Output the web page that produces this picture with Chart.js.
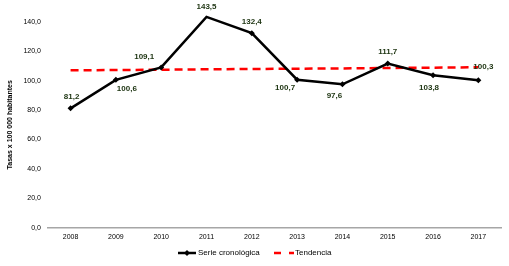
<!DOCTYPE html>
<html>
<head>
<meta charset="utf-8">
<script src="https://cdn.jsdelivr.net/npm/chart.js@4"></script>
<style>
  body { margin: 0; background: #fff; }
  #wrap { width: 509px; height: 266px; }
</style>
</head>
<body>
<div id="wrap"><canvas id="lc"></canvas></div>
<script>
// data
const years = ["2008", "2009", "2010", "2011", "2012", "2013", "2014", "2015", "2016", "2017"];
const serie = [81.2, 100.6, 109.1, 143.5, 132.4, 100.7, 97.6, 111.7, 103.8, 100.3];
const tendencia = [107.1, 107.3, 107.5, 107.8, 108.0, 108.2, 108.4, 108.7, 108.9, 109.2];
const legendNames = ["Serie cronológica", "Tendencia"];

// where each value label sits relative to its point (dx, dy)
const labelOffsets = [
  [1, -12], [11, 9], [-17, -11], [0, -10], [0, -11],
  [-12, 8], [-8, 12], [0, -12], [-4, 13], [5, -14]
];

const fmt = (v) => v.toFixed(1).replace(".", ",");
const fontFam = "'Liberation Sans Narrow', 'Arial Narrow', 'Liberation Sans', Arial, sans-serif";

//value labels + hand drawn legend
const extras = {
  id: "extras",
  afterDatasetsDraw(chart) {
    const ctx = chart.ctx;
    const meta = chart.getDatasetMeta(0);
    ctx.save();
    ctx.font = "bold 8px " + fontFam;
    ctx.fillStyle = "#1c3310";
    ctx.textAlign = "center";
    ctx.textBaseline = "middle";
    meta.data.forEach((pt, i) => {
      const off = labelOffsets[i];
      ctx.fillText(fmt(serie[i]), pt.x + off[0], pt.y + off[1]);
    });
    ctx.restore();
  },
  afterDraw(chart) {
    const ctx = chart.ctx;
    const y = 253;
    ctx.save();
    ctx.font = "8px " + fontFam;
    ctx.textBaseline = "middle";
    ctx.fillStyle = "#000";
    // serie: line with diamond
    ctx.strokeStyle = "#000";
    ctx.lineWidth = 2.5;
    ctx.beginPath();
    ctx.moveTo(178, y);
    ctx.lineTo(196, y);
    ctx.stroke();
    ctx.beginPath();
    ctx.moveTo(187, y - 3);
    ctx.lineTo(190, y);
    ctx.lineTo(187, y + 3);
    ctx.lineTo(184, y);
    ctx.closePath();
    ctx.fill();
    ctx.fillText(legendNames[0], 198, y);
    // tendencia: dashed red
    ctx.strokeStyle = "#ff0000";
    ctx.setLineDash([7, 8]);
    ctx.beginPath();
    ctx.moveTo(274, y);
    ctx.lineTo(294, y);
    ctx.stroke();
    ctx.fillText(legendNames[1], 295, y);
    ctx.restore();
  }
};

const config = {
  type: "line",
  data: {
    labels: years,
    datasets: [
      {
        label: legendNames[0],
        data: serie,
        borderColor: "#000",
        backgroundColor: "#000",
        borderWidth: 2.5,
        pointStyle: "rectRot",
        pointRadius: 3,
        pointBorderWidth: 0,
        tension: 0,
        clip: false
      },
      {
        label: legendNames[1],
        data: tendencia,
        borderColor: "#ff0000",
        backgroundColor: "#ff0000",
        borderWidth: 2.5,
        borderDash: [8, 5],
        pointRadius: 0,
        tension: 0,
        clip: false
      }
    ]
  },
  options: {
    responsive: true,
    maintainAspectRatio: false,
    animation: false,
    layout: { padding: { top: 22, right: 8, left: 4, bottom: 20 } },
    plugins: {
      tooltip: { enabled: false },
      legend: { display: false }
    },
    scales: {
      x: {
        offset: true,
        grid: { display: false, drawTicks: false },
        border: { display: true, color: "#a6a6a6", width: 1.5 },
        ticks: { color: "#000", font: { family: fontFam, size: 7 }, padding: 5, maxRotation: 0 }
      },
      y: {
        min: 0,
        max: 140,
        grid: { display: false, drawTicks: false },
        border: { display: false },
        ticks: {
          stepSize: 20,
          color: "#000",
          font: { family: fontFam, size: 7 },
          padding: 7,
          callback: (v) => fmt(v)
        },
        title: {
          display: true,
          text: "Tasas x 100 000 habitantes",
          color: "#000",
          font: { family: fontFam, size: 7, weight: "bold" },
          padding: 2
        }
      }
    }
  },
  plugins: [extras]
};

new Chart(document.getElementById("lc"), config);
</script>
</body>
</html>
